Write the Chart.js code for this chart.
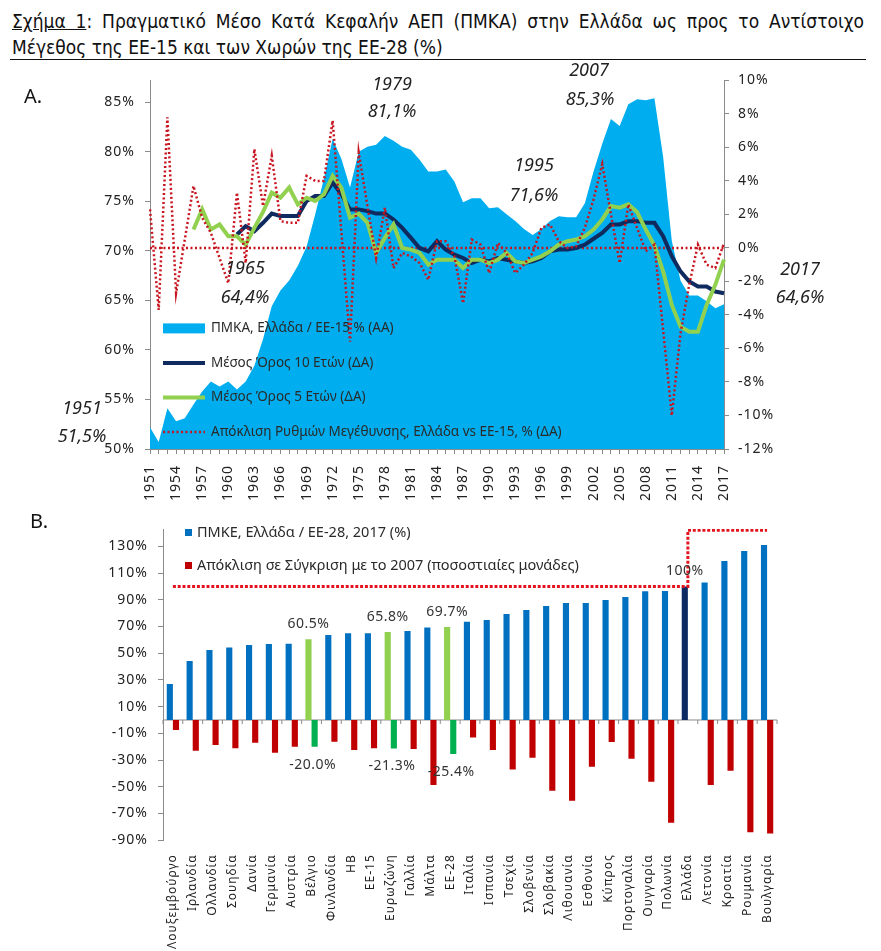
<!DOCTYPE html>
<html>
<head>
<meta charset="utf-8">
<script src="https://cdn.jsdelivr.net/npm/chart.js@4.4.1/dist/chart.umd.min.js"></script>
<style>
  body { margin: 0; background: #fff; width: 881px; height: 951px; position: relative; overflow: hidden; font-family: "Noto Sans", sans-serif; color: #222; }
  .t { position: absolute; left: 12px; width: 852px; font-family: "Liberation Sans Narrow", "DejaVu Sans Condensed", sans-serif; font-size: 19px; line-height: 26px; color: #111; }
  #t1 { top: 8px; text-align: justify; text-align-last: justify; }
  #t2 { top: 34px; }
  #rule { position: absolute; left: 10px; top: 59px; width: 856px; border-top: 1.5px solid #111; }
  .lbl { position: absolute; font-size: 20px; color: #111; }
  .ann { position: absolute; font-style: italic; font-size: 18px; color: #222; transform: translate(-50%, -50%); white-space: nowrap; }
  canvas { position: absolute; left: 0; }
</style>
</head>
<body>
<div class="t" id="t1"><u>Σχήμα 1</u>: Πραγματικό Μέσο Κατά Κεφαλήν ΑΕΠ (ΠΜΚΑ) στην Ελλάδα ως προς το Αντίστοιχο</div>
<div class="t" id="t2">Μέγεθος της ΕΕ-15 και των Χωρών της ΕΕ-28 (%)</div>
<div id="rule"></div>

<canvas id="chartA" width="881" height="450" style="top:62px"></canvas>
<canvas id="chartB" width="881" height="446" style="top:505px"></canvas>

<div class="lbl" style="left:24px;top:82px">A.</div>
<div class="lbl" style="left:30px;top:507px">B.</div>

<div class="ann" style="left:82px;top:407px">1951</div>
<div class="ann" style="left:82px;top:435px">51,5%</div>
<div class="ann" style="left:245px;top:267px">1965</div>
<div class="ann" style="left:245px;top:296px">64,4%</div>
<div class="ann" style="left:392px;top:83px">1979</div>
<div class="ann" style="left:392px;top:110px">81,1%</div>
<div class="ann" style="left:534px;top:164px">1995</div>
<div class="ann" style="left:534px;top:194px">71,6%</div>
<div class="ann" style="left:589px;top:69px">2007</div>
<div class="ann" style="left:590px;top:98px">85,3%</div>
<div class="ann" style="left:800px;top:268px">2017</div>
<div class="ann" style="left:800px;top:296px">64,6%</div>

<script>
// ---- Panel A data (1951-2017) ----
const years = [];
for (let y = 1951; y <= 2017; y++) years.push(String(y));

// ΠΜΚΑ Ελλάδα / ΕΕ-15, % (left axis)
const pmka = [
  52.2, 50.7, 54.1, 52.8, 53.1, 54.5, 55.8, 56.8, 56.3, 56.8,
  56.0, 56.8, 58.4, 61.1, 64.4, 66.0, 67.0, 68.5, 70.4, 73.7,
  77.3, 81.3, 79.3, 76.4, 80.0, 80.5, 80.7, 81.6, 81.1, 80.5,
  80.2, 79.2, 78.0, 78.0, 78.2, 77.0, 74.9, 75.3, 75.3, 74.3,
  74.4, 73.7, 73.0, 72.2, 71.6, 72.2, 73.0, 73.5, 73.4, 73.4,
  74.8, 78.0, 80.8, 83.3, 82.6, 84.8, 85.3, 85.2, 85.4, 79.5,
  71.0, 67.0, 65.5, 65.5, 64.9, 64.2, 64.6
];
// growth differential Greece vs EU-15 (right axis)
const growthGap = [
  2.3, -3.7, 7.8, -2.7, 0.5, 3.7, 1.8, 0.9, -0.6, -2.1,
  3.3, -0.9, 5.9, 2.5, 5.5, 1.6, 1.5, 1.5, 4.3, 4.0,
  4.0, 7.6, 1.0, -5.6, 5.7, 2.5, -0.6, 2.4, -1.2, -0.3,
  -0.5, -0.9, -1.9, 0.4, 0.4, -0.5, -3.3, 0.5, 0.2, -1.5,
  0.3, -0.3, -1.5, -1.0, -0.3, 1.2, 1.4, 0.4, 0.0, 0.1,
  1.2, 2.9, 5.0, 2.0, -0.9, 2.6, 1.2, -0.2, 0.2, -4.9,
  -10.0, -5.1, -2.2, 0.2, -1.0, -1.2, 0.3
];
// 10-year average (from 1961)
const avg10 = [
  null, null, null, null, null, null, null, null, null, null,
  0.8, 1.3, 1.0, 1.5, 2.05, 1.9, 1.9, 1.9, 2.8, 3.1,
  3.1, 3.9, 3.2, 2.3, 2.3, 2.2, 2.05, 2.05, 1.7, 1.2,
  0.6, 0.0, -0.2, 0.4, -0.1, -0.4, -0.6, -0.9, -0.7, -0.8,
  -0.6, -0.7, -0.8, -0.9, -0.8, -0.6, -0.2, -0.1, -0.1, 0.0,
  0.2, 0.55, 0.9, 1.4, 1.4, 1.6, 1.6, 1.5, 1.5, 0.7,
  -0.5, -1.4, -2.0, -2.3, -2.3, -2.6, -2.7
];
// 5-year average (from 1956)
const avg5 = [
  null, null, null, null, null, 1.1, 2.3, 1.1, 1.4, 0.7,
  0.7, 0.2, 1.2, 2.15, 3.3, 3.0, 3.6, 2.6, 3.0, 2.8,
  3.2, 4.3, 3.6, 1.8, 2.05, 1.5, -0.3, 0.6, 1.4, 0.0,
  -0.1, -0.3, -1.0, -0.7, -0.7, -0.7, -1.2, -0.7, -0.7, -0.9,
  -0.7, -0.3, -0.8, -0.9, -0.7, -0.5, -0.2, 0.2, 0.4, 0.5,
  0.7, 1.1, 1.7, 2.5, 2.4, 2.6, 2.15, 1.1, 0.15, -1.4,
  -3.4, -4.7, -5.0, -5.0, -3.4, -2.2, -0.7
];
const leftTicksA = [50, 55, 60, 65, 70, 75, 80, 85];

// ---- Panel B data (2017) ----
const countries = [
  "Λουξεμβούργο", "Ιρλανδία", "Ολλανδία", "Σουηδία", "Δανία", "Γερμανία", "Αυστρία", "Βέλγιο",
  "Φινλανδία", "ΗΒ", "ΕΕ-15", "Ευρωζώνη", "Γαλλία", "Μάλτα", "ΕΕ-28", "Ιταλία", "Ισπανία",
  "Τσεχία", "Σλοβενία", "Σλοβακία", "Λιθουανία", "Εσθονία", "Κύπρος", "Πορτογαλία", "Ουγγαρία",
  "Πολωνία", "Ελλάδα", "Λετονία", "Κροατία", "Ρουμανία", "Βουλγαρία"
];
const gdpRatio = [
  27.0, 44.2, 52.4, 54.2, 56.2, 56.9, 57.0, 60.5, 63.7, 64.9, 64.9, 65.8, 66.7, 69.2, 69.7, 73.6,
  74.9, 79.4, 82.4, 85.4, 87.6, 87.6, 89.9, 92.1, 96.4, 96.6, 100, 102.9, 119.1, 126.6, 131.1
];
const change07 = [
  -7.5, -23.0, -18.7, -21.2, -17.0, -24.5, -20.0, -20.0, -16.2, -22.5, -21.2, -21.3, -21.7, -48.7,
  -25.4, -13.2, -22.5, -37.0, -28.2, -52.9, -60.4, -35.0, -16.5, -29.0, -46.2, -77.0, 0, -48.7,
  -38.0, -84.0, -85.0
];
const refLevels = [100, 142]; // dotted step: Greece level, then above
const yTicksB = [-90, -70, -50, -30, -10, 10, 30, 50, 70, 90, 110, 130];
const highlight = ["Βέλγιο", "Ευρωζώνη", "ΕΕ-28"];
const greeceIdx = countries.indexOf("Ελλάδα");

const RED_DOT = "#C8141E";
const AXIS = "#8a8a8a";

// wider letter spacing for axis labels, like the original
const spacing = {
  id: "spacing",
  beforeLayout(chart) { chart.ctx.letterSpacing = "1px"; },
  beforeDraw(chart) { chart.ctx.letterSpacing = "1px"; }
};

// legend drawn inside the plot of panel A
const legendA = {
  id: "legendA",
  afterDraw(chart) {
    const { ctx, chartArea: ca } = chart;
    const items = [
      { t: "ΠΜΚΑ, Ελλάδα / ΕΕ-15 % (ΑΑ)", kind: "box", c: "#00AEEF" },
      { t: "Μέσος Όρος 10 Ετών (ΔΑ)", kind: "line", c: "#0E2A5E" },
      { t: "Μέσος Όρος 5 Ετών (ΔΑ)", kind: "line", c: "#92D050" },
      { t: "Απόκλιση Ρυθμών Μεγέθυνσης, Ελλάδα vs ΕΕ-15, % (ΔΑ)", kind: "dot", c: RED_DOT }
    ];
    const x0 = ca.left + 13, x1 = ca.left + 55;
    ctx.save();
    ctx.letterSpacing = "0px";
    ctx.font = '13.5px "Noto Sans"';
    ctx.textBaseline = "middle";
    items.forEach((it, i) => {
      const y = ca.top + 248 + i * 34.5;
      if (it.kind === "box") {
        ctx.fillStyle = it.c;
        ctx.fillRect(x0, y - 5, x1 - x0, 10);
      } else {
        ctx.strokeStyle = it.c;
        ctx.lineWidth = it.kind === "dot" ? 2.5 : 4;
        ctx.setLineDash(it.kind === "dot" ? [2, 2.5] : []);
        ctx.beginPath(); ctx.moveTo(x0, y); ctx.lineTo(x1, y); ctx.stroke();
        ctx.setLineDash([]);
      }
      ctx.fillStyle = "#2a2a2a";
      ctx.fillText(it.t, x1 + 6, y);
    });
    ctx.restore();
  }
};

new Chart(document.getElementById("chartA"), {
  type: "line",
  data: {
    labels: years,
    datasets: [
      { label: "Απόκλιση", data: growthGap, yAxisID: "yR", borderColor: RED_DOT, borderWidth: 2.5,
        borderDash: [2, 2.5], pointRadius: 0, order: 1 },
      { label: "Μέσος Όρος 5 Ετών", data: avg5, yAxisID: "yR", borderColor: "#92D050", borderWidth: 4,
        pointRadius: 0, order: 2 },
      { label: "Μέσος Όρος 10 Ετών", data: avg10, yAxisID: "yR", borderColor: "#0E2A5E", borderWidth: 4,
        pointRadius: 0, order: 3 },
      { label: "0%", data: years.map(() => 0), yAxisID: "yR", borderColor: RED_DOT, borderWidth: 2.5,
        borderDash: [2, 2.5], pointRadius: 0, order: 4 },
      { label: "ΠΜΚΑ", data: pmka, yAxisID: "yL", fill: "start", backgroundColor: "#00AEEF",
        borderWidth: 0, pointRadius: 0, order: 5 }
    ]
  },
  options: {
    responsive: false,
    animation: false,
    layout: { padding: { top: 13 } },
    plugins: { legend: { display: false }, tooltip: { enabled: false } },
    scales: {
      x: {
        offset: false,
        grid: { drawOnChartArea: false, tickLength: 5, color: AXIS },
        border: { color: AXIS },
        ticks: {
          autoSkip: false, maxRotation: 90, minRotation: 90, padding: 11,
          font: { size: 14, family: "Noto Sans" }, color: "#222",
          callback: (v, i) => (i % 3 === 0 ? years[i] : "")
        },
        afterFit: s => { s.height = 63; }
      },
      yL: {
        position: "left", min: 50, max: 87.2,
        grid: { drawOnChartArea: false, tickLength: 5, color: AXIS },
        border: { color: AXIS },
        afterBuildTicks: s => { s.ticks = leftTicksA.map(v => ({ value: v })); },
        ticks: { font: { size: 14, family: "Noto Sans" }, color: "#222", padding: 10, callback: v => v + "%" },
        afterFit: s => { s.width = 150; }
      },
      yR: {
        position: "right", min: -12, max: 10,
        grid: { drawOnChartArea: false, tickLength: 5, color: AXIS },
        border: { color: AXIS },
        ticks: { stepSize: 2, font: { size: 14, family: "Noto Sans" }, color: "#222", padding: 9, callback: v => v + "%" },
        afterFit: s => { s.width = 157; }
      }
    }
  },
  plugins: [spacing, legendA]
});

// ---- Panel B plugins ----
const zeroLineB = {
  id: "zeroLineB",
  beforeDatasetsDraw(chart) {
    const { ctx, chartArea: ca, scales: { y } } = chart;
    const y0 = y.getPixelForValue(0);
    const n = countries.length;
    ctx.save();
    ctx.strokeStyle = AXIS;
    ctx.lineWidth = 1;
    ctx.beginPath();
    ctx.moveTo(ca.left, y0); ctx.lineTo(ca.right, y0);
    for (let i = 0; i <= n; i++) {
      const px = ca.left + i * (ca.right - ca.left) / n;
      ctx.moveTo(px, y0); ctx.lineTo(px, y0 + 4);
    }
    ctx.stroke();
    ctx.restore();
  }
};

const labelsB = {
  id: "labelsB",
  afterDatasetsDraw(chart) {
    const { ctx } = chart;
    const blue = chart.getDatasetMeta(1).data, red = chart.getDatasetMeta(2).data;
    ctx.save();
    ctx.letterSpacing = "0.5px";
    ctx.font = '14px "Noto Sans"';
    ctx.fillStyle = "#333";
    ctx.textAlign = "center";
    countries.forEach((c, i) => {
      if (!highlight.includes(c) && i !== greeceIdx) return;
      const v = gdpRatio[i];
      ctx.textBaseline = "bottom";
      ctx.fillText((v === 100 ? "100" : v.toFixed(1)) + "%", blue[i].x, blue[i].y - 8);
      if (change07[i] !== 0) {
        ctx.textBaseline = "top";
        ctx.fillText(change07[i].toFixed(1) + "%", red[i].x - 2, red[i].y + 11);
      }
    });
    ctx.restore();
  }
};

const legendB = {
  id: "legendB",
  afterDraw(chart) {
    const { ctx } = chart;
    const items = [
      { t: "ΠΜΚΕ, Ελλάδα / ΕΕ-28, 2017 (%)", c: "#0070C0" },
      { t: "Απόκλιση σε Σύγκριση με το 2007 (ποσοστιαίες μονάδες)", c: "#C00000" }
    ];
    ctx.save();
    ctx.letterSpacing = "0px";
    ctx.font = '14.5px "Noto Sans"';
    ctx.textBaseline = "middle";
    items.forEach((it, i) => {
      const y = 28 + i * 33;
      ctx.fillStyle = it.c;
      ctx.fillRect(185, y - 4, 7, 7);
      ctx.fillStyle = "#2a2a2a";
      ctx.fillText(it.t, 197, y);
    });
    ctx.restore();
  }
};

new Chart(document.getElementById("chartB"), {
  type: "bar",
  data: {
    labels: countries,
    datasets: [
      { type: "line", label: "ref", data: countries.map((c, i) => (i <= greeceIdx ? refLevels[0] : refLevels[1])),
        stepped: "after", borderColor: "#E3141E", borderWidth: 3, borderDash: [3, 1.8], pointRadius: 0, order: 0 },
      { label: "ΠΜΚΕ", data: gdpRatio, order: 1, categoryPercentage: 0.62, barPercentage: 1,
        backgroundColor: countries.map((c, i) => (i === greeceIdx ? "#0B2A63" : highlight.includes(c) ? "#92D050" : "#0070C0")) },
      { label: "Απόκλιση", data: change07, order: 2, categoryPercentage: 0.62, barPercentage: 1,
        backgroundColor: countries.map(c => (highlight.includes(c) ? "#00B050" : "#C00000")) }
    ]
  },
  options: {
    responsive: false,
    animation: false,
    layout: { padding: { top: 24, right: 104 } },
    plugins: { legend: { display: false }, tooltip: { enabled: false } },
    scales: {
      x: {
        grid: { display: false },
        border: { display: false },
        ticks: { autoSkip: false, maxRotation: 90, minRotation: 90, padding: 6,
                 font: { size: 12, family: "Noto Sans" }, color: "#222" },
        afterFit: s => { s.height = 110.8; }
      },
      y: {
        min: -90, max: 143,
        grid: { drawOnChartArea: false, tickLength: 5, color: AXIS },
        border: { color: AXIS },
        afterBuildTicks: s => { s.ticks = yTicksB.map(v => ({ value: v })); },
        ticks: { font: { size: 14, family: "Noto Sans" }, color: "#222", padding: 10, callback: v => v + "%" },
        afterFit: s => { s.width = 163; }
      }
    }
  },
  plugins: [spacing, zeroLineB, labelsB, legendB]
});
</script>
</body>
</html>
